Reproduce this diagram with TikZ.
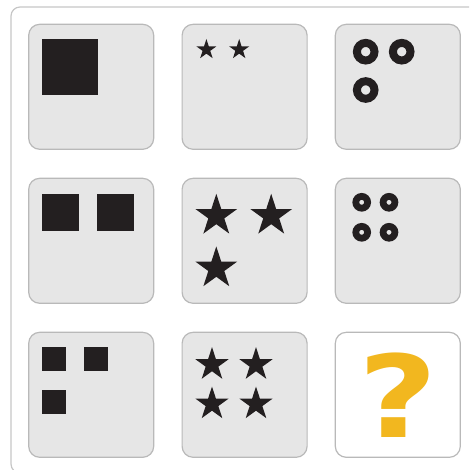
\documentclass[tikz,border=0pt]{standalone}
\usepackage{fontspec}
\newfontfamily\quizfont{DejaVu Sans}
\usetikzlibrary{shapes.geometric}
\definecolor{tilefill}{HTML}{E6E6E6}
\definecolor{tileedge}{HTML}{B9B9B9}
\definecolor{frameedge}{HTML}{C6C6C6}
\definecolor{ink}{HTML}{231F20}
\definecolor{quiz}{HTML}{F2B71F}

\begin{document}
\begin{tikzpicture}[x=1pt, y=-1pt,
tile/.style={draw=tileedge, line width=1.2pt, fill=tilefill, rounded corners=11pt, minimum width=125pt, minimum height=125pt, inner sep=0pt},
blank/.style={tile, fill=white},
block/.style={fill=ink, inner sep=0pt, minimum size=#1},
spark/.style={star, star points=5, star point ratio=2.618, fill=ink, inner sep=0pt, minimum size=#1},
ring/.style={circle, draw=ink, line width=#1, inner sep=0pt}]
\clip (0,0) rectangle (469,470);
% outer frame, cut off at the right and bottom
\draw[frameedge, line width=1.2pt, rounded corners=9pt] (11,7) rectangle (490,473);
% the grid of tiles
\node[tile] (t1) at (91.2,86.8) {};
\node[tile] (t2) at (244.6,86.8) {};
\node[tile] (t3) at (397.8,86.8) {};
\node[tile] (t4) at (91.2,240.8) {};
\node[tile] (t5) at (244.6,240.8) {};
\node[tile] (t6) at (397.8,240.8) {};
\node[tile] (t7) at (91.2,394.8) {};
\node[tile] (t8) at (244.6,394.8) {};
\node[blank] (t9) at (397.8,394.8) {};
% squares
\node[block=56pt] (sq1) at (70,67) {};
\node[block=37pt] (sq2a) at (60.3,212.5) {};
\node[block=37pt] (sq2b) at (115.5,212.5) {};
\node[block=24pt] (sq3a) at (54,358.7) {};
\node[block=24pt] (sq3b) at (96,358.7) {};
\node[block=24pt] (sq3c) at (54,402) {};
% stars
\node[spark=21.2pt] (st1a) at (206.4,49.6) {};
\node[spark=21.2pt] (st1b) at (239.2,49.6) {};
\node[spark=44pt] (st2a) at (216.3,215.8) {};
\node[spark=44pt] (st2b) at (271.2,215.8) {};
\node[spark=44pt] (st2c) at (216.3,268.4) {};
\node[spark=35pt] (st3a) at (212,364.6) {};
\node[spark=35pt] (st3b) at (256,364.6) {};
\node[spark=35pt] (st3c) at (212,404) {};
\node[spark=35pt] (st3d) at (256,404) {};
% rings
\node[ring=8pt, minimum size=17.6pt] (rg1a) at (365.7,51.7) {};
\node[ring=8pt, minimum size=17.6pt] (rg1b) at (401.7,51.7) {};
\node[ring=8pt, minimum size=17.6pt] (rg1c) at (365.7,90) {};
\node[ring=6.8pt, minimum size=11.8pt] (rg2a) at (361.7,202.3) {};
\node[ring=6.8pt, minimum size=11.8pt] (rg2b) at (389,202.3) {};
\node[ring=6.8pt, minimum size=11.8pt] (rg2c) at (361.7,232.3) {};
\node[ring=6.8pt, minimum size=11.8pt] (rg2d) at (389,232.3) {};
% the missing tile
\node[text=quiz, inner sep=0pt, xscale=1.2, transform shape, font=\quizfont\bfseries\fontsize{114}{114}\selectfont] (qm) at (t9) {?};
\end{tikzpicture}
\end{document}
